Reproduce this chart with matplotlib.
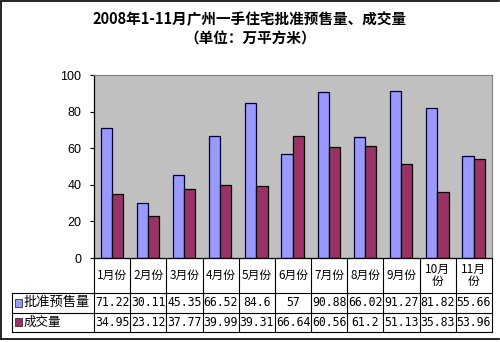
import numpy as np
import matplotlib as mpl
import matplotlib.pyplot as plt
from matplotlib.patches import Rectangle

mpl.rcParams['font.family'] = ['Noto Sans CJK SC', 'DejaVu Sans']

# 2008 monthly figures, unit: 10k square metres
months = ['1月份', '2月份', '3月份', '4月份', '5月份', '6月份',
          '7月份', '8月份', '9月份', '10月\n份', '11月\n份']
presale = [71.22, 30.11, 45.35, 66.52, 84.6, 57, 90.88, 66.02, 91.27, 81.82, 55.66]
deals = [34.95, 23.12, 37.77, 39.99, 39.31, 66.64, 60.56, 61.2, 51.13, 35.83, 53.96]
series_names = ['批准预售量', '成交量']
series_colors = ['#9999FF', '#993366']

fig = plt.figure(figsize=(5.0, 3.42), dpi=100)
ax = fig.add_axes([0.188, 0.2456, 0.796, 0.5351])
ax.set_facecolor('#C0C0C0')

x = np.arange(len(months)) + 0.5
w = 0.31
ax.bar(x - w / 2 - 0.01, presale, w, color=series_colors[0], edgecolor='#000033', linewidth=0.9)
ax.bar(x + w / 2 - 0.01, deals, w, color=series_colors[1], edgecolor='#000000', linewidth=0.9)

ax.set_xlim(0, len(months))
ax.set_ylim(0, 100)
ax.set_yticks(range(0, 101, 20))
ax.set_xticks([])
ax.tick_params(axis='y', labelsize=9, length=3, width=0.8, pad=6)
for lab in ax.get_yticklabels():
    lab.set_family('Liberation Sans')
for side in ['top', 'right']:
    ax.spines[side].set_color('#808080')
for side in ['left', 'bottom']:
    ax.spines[side].set_color('black')
    ax.spines[side].set_linewidth(0.9)

# data table underneath the plot area (axes coordinates)
n = len(months)
y_head = -0.191
y_mid = -0.3005
y_bot = -0.404
x_left = -0.206
lk = dict(color='black', linewidth=0.8, clip_on=False, transform=ax.transAxes)
for i in range(n + 1):
    ax.plot([i / n, i / n], [0, y_bot], **lk)
ax.plot([x_left, x_left], [y_head, y_bot], **lk)
for yy in (y_head, y_mid, y_bot):
    ax.plot([x_left, 1], [yy, yy], **lk)

for i, m in enumerate(months):
    cx = (i + 0.5) / n
    ax.text(cx, (0 + y_head) / 2, m, transform=ax.transAxes, ha='center',
            va='center', fontsize=8.5, linespacing=1.0)
    ax.text(cx, (y_head + y_mid) / 2, f'{presale[i]:g}', transform=ax.transAxes,
            ha='center', va='center', fontsize=8.3, family='DejaVu Sans Mono')
    ax.text(cx, (y_mid + y_bot) / 2, f'{deals[i]:g}', transform=ax.transAxes,
            ha='center', va='center', fontsize=8.3, family='DejaVu Sans Mono')

for k, (name, col) in enumerate(zip(series_names, series_colors)):
    yc = (y_head + y_mid) / 2 if k == 0 else (y_mid + y_bot) / 2
    ax.add_patch(Rectangle((x_left + 0.008, yc - 0.022), 0.016, 0.044,
                           facecolor=col, edgecolor='#333333', linewidth=0.6,
                           transform=ax.transAxes, clip_on=False))
    ax.text(x_left + 0.03, yc, name, transform=ax.transAxes, ha='left',
            va='center', fontsize=9.5 if k == 0 else 9)

fig.text(0.5, 0.945, '2008年1-11月广州一手住宅批准预售量、成交量', ha='center',
         va='center', fontsize=10.5, fontweight='bold')
fig.text(0.5, 0.888, '（单位：万平方米）', ha='center', va='center',
         fontsize=10.5, fontweight='bold')

# outer frame
fk = dict(color='black', linewidth=1.2, transform=fig.transFigure)
fig.add_artist(plt.Line2D([0.002, 0.002], [0.008, 0.995], **fk))
fig.add_artist(plt.Line2D([0.002, 0.998], [0.008, 0.008], **fk))
fig.add_artist(plt.Line2D([0.002, 0.998], [0.997, 0.997], **fk))

fig.savefig('out.png', dpi=100)
